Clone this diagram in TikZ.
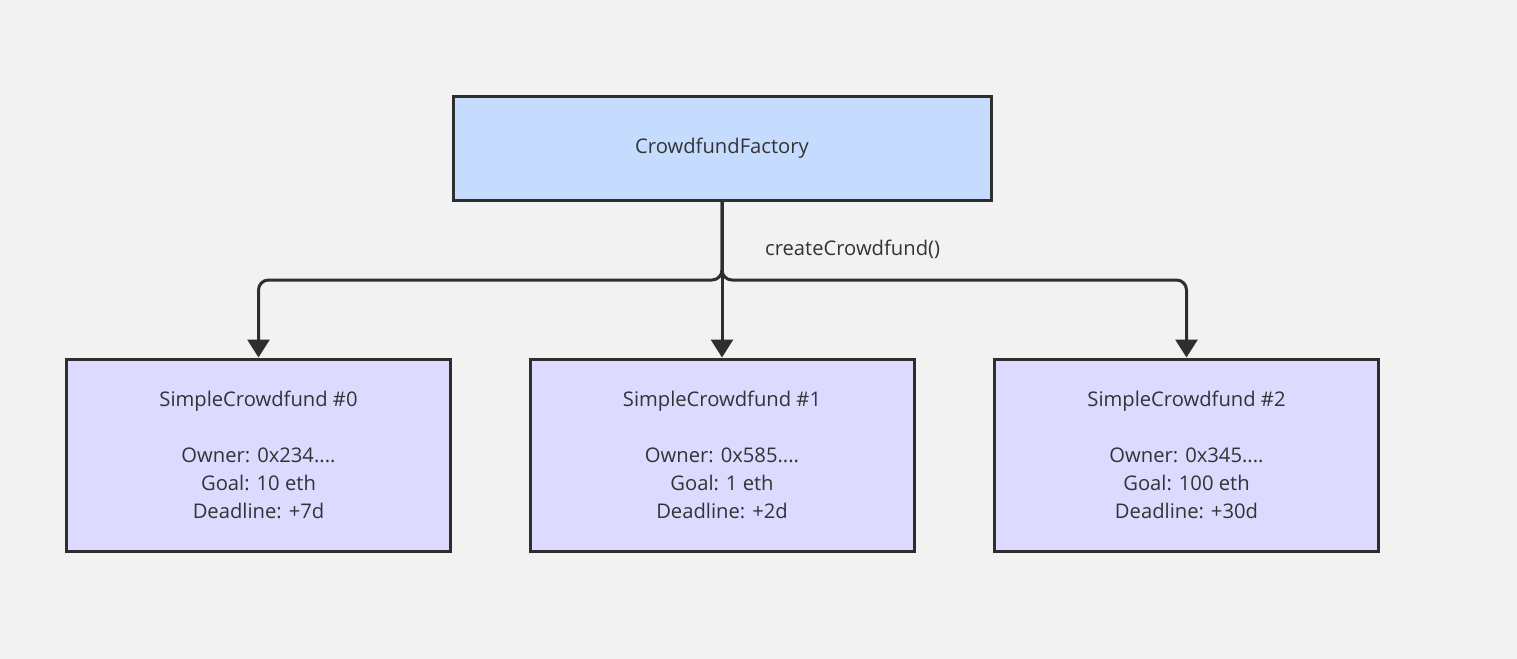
\documentclass[tikz,border=0pt]{standalone}
\usepackage{fontspec}
\setmainfont{Open Sans}
\usetikzlibrary{arrows.meta,positioning}
\definecolor{bgc}{HTML}{F2F2F2}
\definecolor{factoryc}{HTML}{C6DCFF}
\definecolor{fundc}{HTML}{DDDAFF}
\definecolor{linec}{HTML}{2E2E2E}
\definecolor{textc}{HTML}{333333}

\begin{document}
\begin{tikzpicture}[
  x=0.5pt, y=-0.5pt,
  node distance=40pt,
  factory/.style={draw=linec, fill=factoryc, line width=1.5pt, font=\fontsize{10.1}{14}\selectfont, text=textc, minimum width=269pt, minimum height=52pt, inner sep=0pt},
  fund/.style={draw=linec, fill=fundc, line width=1.5pt, font=\fontsize{10.1}{14}\selectfont, text=textc, align=center, minimum width=192pt, minimum height=96pt, inner sep=0pt},
  arr/.style={-{Triangle[length=9pt,width=11pt]}, line width=1.5pt, draw=linec, rounded corners=5pt}
]
\fill[bgc] (0,0) rectangle (1517,659);
\node[factory] (factory) at (722,148) {CrowdfundFactory};
\node[fund, below=78pt of factory] (fund1) {SimpleCrowdfund \#1\\[14pt]Owner: 0x585....\\Goal: 1 eth\\Deadline: +2d};
\node[fund, left=38.25pt of fund1] (fund0) {SimpleCrowdfund \#0\\[14pt]Owner: 0x234....\\Goal: 10 eth\\Deadline: +7d};
\node[fund, right=38.75pt of fund1] (fund2) {SimpleCrowdfund \#2\\[14pt]Owner: 0x345....\\Goal: 100 eth\\Deadline: +30d};
\coordinate (split) at (722,280);
\draw[arr] (factory.south) |- (split) -| (fund0.north);
\draw[arr] (factory.south) -- node[pos=0.31, anchor=west, xshift=17.5pt, text=textc, font=\fontsize{10.1}{14}\selectfont] {createCrowdfund()} (fund1.north);
\draw[arr] (factory.south) |- (split) -| (fund2.north);
\end{tikzpicture}
\end{document}
